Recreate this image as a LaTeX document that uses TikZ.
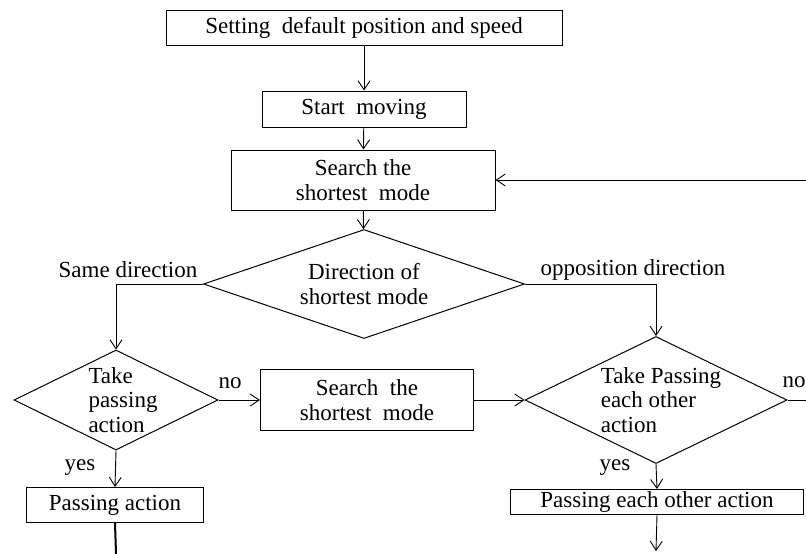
\documentclass[tikz,border=0pt]{standalone}
\usepackage{fontspec}
\setmainfont{Liberation Serif}
\usetikzlibrary{positioning}
\usetikzlibrary{shapes.geometric}
\usetikzlibrary{arrows.meta}
\tikzset{box/.style={draw,line width=1pt,inner sep=0pt}}
\tikzset{decision/.style={draw,diamond,line width=1pt,inner sep=0pt}}
\tikzset{ed/.style={inner sep=1pt}}
\tikzset{>={Straight Barb[length=9pt,width=12pt]}}

\begin{document}
\begin{tikzpicture}[x=1pt,y=-1pt,line width=0.9pt,font=\fontsize{23}{24.5}\selectfont]
\useasboundingbox (0,0) rectangle (806,554);

\node[box,minimum width=396,minimum height=35] (set) at (364,28) {Setting~ default position and speed};
\node[box,minimum width=204,minimum height=36] (start) at (364,109) {Start~ moving};
\node[box,minimum width=264,minimum height=60,align=center] (search) at (363,180) {Search the\\shortest~ mode};

\node[decision,minimum width=321,minimum height=109,
  label={[align=center]center:{Direction of\\shortest mode}}] (dir) at (364,284) {};
\node[decision,minimum width=204,minimum height=100,
  label={[align=left,xshift=7pt]center:{Take\\passing\\action}}] (take) at (116,400) {};
\node[box,minimum width=213,minimum height=61,align=center] (search2) at (367,400) {Search~ the\\shortest~ mode};
\node[decision,minimum width=262,minimum height=127,
  label={[align=left,xshift=5pt]center:{Take Passing\\each other\\action}}] (pass2) at (656,400) {};

\node[box,minimum width=177,minimum height=35] (pass) at (115,505) {Passing action};
\node[box,minimum width=293,minimum height=25] (passeach) at (657,502) {Passing each other action};

\coordinate (loop) at (806,180);
\coordinate (out) at (806,400);
\coordinate (end1) at (116,554);
\coordinate (end2) at (656,551);

\draw[->] (set) -- (start);
\draw[->] (start) -- (search);
\draw[->] (search) -- (dir);
\draw[->] (loop) -- (search);
\draw[->] (dir.west) -| (take.north);
\draw[->] (dir.east) -| (pass2.north);
\draw[->] (take.east) -- (search2.west);
\draw[->] (search2.east) -- (pass2.west);
\draw (pass2.east) -- (out);
\draw[->] (take.south) -- (pass.north);
\draw[->] (pass2.south) -- (passeach.north);
\draw[line width=2pt] (pass.south) -- (end1);
\draw[->] (passeach.south) -- (end2);

\node[ed] (same) at (128,270) {Same direction};
\node[ed] (oppo) at (633,270) {opposition direction};
\node[ed] (no1) at (230,383) {no};
\node[ed] (no2) at (794,382) {no};
\node[ed] (yes1) at (80,468) {yes};
\node[ed] (yes2) at (615,468) {yes};

\end{tikzpicture}
\end{document}
